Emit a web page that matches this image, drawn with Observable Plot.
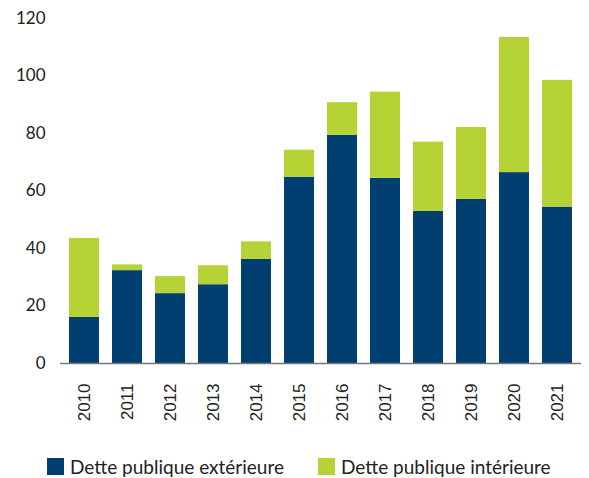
<!DOCTYPE html>
<html><head><meta charset="utf-8">
<script src="https://cdn.jsdelivr.net/npm/d3@7"></script>
<script src="https://cdn.jsdelivr.net/npm/@observablehq/plot@0.6"></script>
<style>
body{margin:0;background:#fff;}
#legend{display:flex;align-items:center;font-family:Lato,"Noto Sans",sans-serif;font-size:19px;color:#222;height:33px;padding-left:47px;padding-top:10px;box-sizing:border-box;}
.item{display:flex;align-items:center;}
.sw{width:17px;height:17px;margin-right:6px;}
</style>
</head><body>
<div id="chart"></div>
<div id="legend"></div>
<script>
const years = ["2010","2011","2012","2013","2014","2015","2016","2017","2018","2019","2020","2021"];
const exterieure = [16, 32.3, 24.3, 27.4, 36.2, 64.8, 79.4, 64.4, 52.9, 57.1, 66.4, 54.4];
const interieure = [27.5, 2.0, 5.9, 6.6, 6.1, 9.4, 11.3, 30.0, 24.1, 25.0, 47.0, 44.1];
const seriesNames = ["Dette publique extérieure", "Dette publique intérieure"];
const seriesColors = ["#013f70", "#b5d334"];
const yTicks = [0, 20, 40, 60, 80, 100, 120];

const data = [];
years.forEach((y, i) => {
  data.push({year: y, series: seriesNames[0], value: exterieure[i]});
  data.push({year: y, series: seriesNames[1], value: interieure[i]});
});

const chart = Plot.plot({
  width: 589,
  height: 445,
  marginLeft: 60,
  marginRight: 8,
  marginTop: 18,
  marginBottom: 82,
  style: {fontFamily: "Lato, 'Noto Sans', sans-serif", fontSize: "17px", color: "#222", background: "#fff"},
  x: {domain: years, paddingInner: 0.31, paddingOuter: 0.155, label: null},
  y: {domain: [0, 120], label: null},
  color: {domain: seriesNames, range: seriesColors},
  marks: [
    Plot.barY(data, Plot.stackY({order: null, x: "year", y: "value", fill: "series"})),
    Plot.ruleY([0], {stroke: "#777", strokeWidth: 1.5}),
    Plot.axisY({ticks: yTicks, tickSize: 0, tickPadding: 15, label: null, fontSize: 17}),
    Plot.axisX({tickSize: 0, tickRotate: -90, tickPadding: 20, label: null, fontFamily: "'Liberation Sans', Arial, sans-serif", fontSize: 17})
  ]
});
document.getElementById("chart").appendChild(chart);

const leg = document.getElementById("legend");
seriesNames.forEach((n, i) => {
  const it = document.createElement("div");
  it.className = "item";
  if (i > 0) it.style.marginLeft = "34px";
  const sw = document.createElement("div");
  sw.className = "sw";
  sw.style.background = seriesColors[i];
  it.appendChild(sw);
  const t = document.createElement("span");
  t.textContent = n;
  it.appendChild(t);
  leg.appendChild(it);
});
</script>
</body></html>
